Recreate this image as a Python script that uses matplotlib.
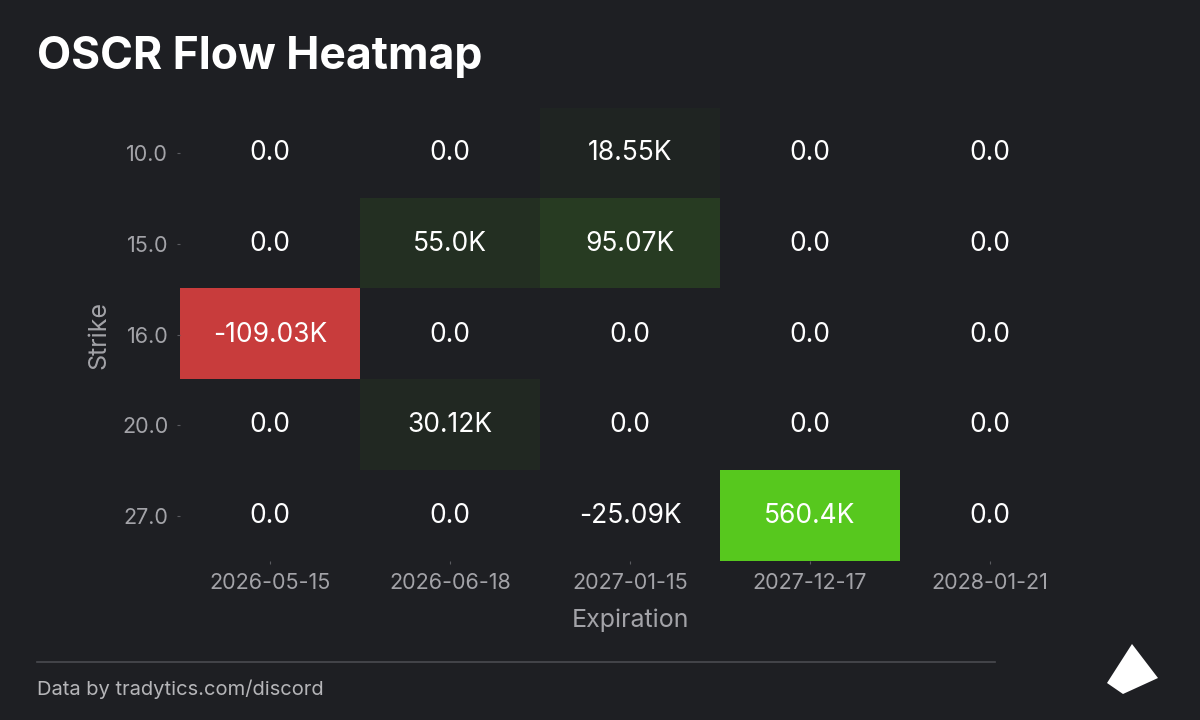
import numpy as np
import matplotlib
matplotlib.use("Agg")
import matplotlib.pyplot as plt
from matplotlib.colors import LinearSegmentedColormap, Normalize
from matplotlib.patches import Polygon

# Data (flow in thousands)
strikes = ["10.0", "15.0", "16.0", "20.0", "27.0"]
expirations = ["2026-05-15", "2026-06-18", "2027-01-15", "2027-12-17", "2028-01-21"]
flow_k = np.array([
    [0.0, 0.0, 18.55, 0.0, 0.0],
    [0.0, 55.0, 95.07, 0.0, 0.0],
    [-109.03, 0.0, 0.0, 0.0, 0.0],
    [0.0, 30.12, 0.0, 0.0, 0.0],
    [0.0, 0.0, -25.09, 560.4, 0.0],
])

bg = "#1e1f23"
red = "#c83c3c"
green = "#57c81e"
grey = "#a3a3a8"

plt.rcParams["font.family"] = ["Inter", "DejaVu Sans"]

vmin, vmax = flow_k.min(), flow_k.max()
p_neg = (-25.09 - vmin) / (vmax - vmin)
p_zero = (0 - vmin) / (vmax - vmin)
cmap = LinearSegmentedColormap.from_list(
    "flow", [(0.0, red), (p_neg, bg), (p_zero, bg), (1.0, green)])

fig = plt.figure(figsize=(12, 7.2), dpi=100, facecolor=bg)
ax = fig.add_axes([0.15, 0.2208, 0.75, 0.6292])
ax.set_facecolor(bg)
ax.imshow(flow_k, cmap=cmap, norm=Normalize(vmin, vmax), aspect="auto",
          interpolation="nearest")

for i in range(len(strikes)):
    for j in range(len(expirations)):
        v = flow_k[i, j]
        label = "0.0" if v == 0 else f"{round(v, 2)}K"
        ax.text(j, i, label, ha="center", va="center", color="white", fontsize=19)

ax.set_xticks(range(len(expirations)))
ax.set_xticklabels(expirations)
ax.set_yticks(range(len(strikes)))
ax.set_yticklabels(strikes)
ax.tick_params(colors="#5a5b60", labelcolor=grey, labelsize=15.5, length=2.5,
               width=0.8, pad=6)
ax.set_xlabel("Expiration", color=grey, fontsize=18, labelpad=11)
ax.set_ylabel("Strike", color=grey, fontsize=18, labelpad=8)
for s in ax.spines.values():
    s.set_visible(False)

fig.text(37 / 1200, 1 - 57 / 720, "OSCR Flow Heatmap", color="white",
         fontsize=32, fontweight="bold", va="center", ha="left")

fig.add_artist(plt.Line2D([37 / 1200, 995 / 1200], [1 - 662 / 720] * 2,
                          color="#4a4b50", lw=1.2))
fig.text(37 / 1200, 1 - 689 / 720, "Data by tradytics.com/discord",
         color="#b5b5b8", fontsize=14.5, va="center", ha="left")

logo = [(1132, 644), (1158, 678), (1123, 694), (1107, 683)]
fig.add_artist(Polygon([(x / 1200, 1 - y / 720) for x, y in logo],
                       closed=True, transform=fig.transFigure,
                       facecolor="white", edgecolor="none"))

fig.savefig("out.png", dpi=100, facecolor=bg)
